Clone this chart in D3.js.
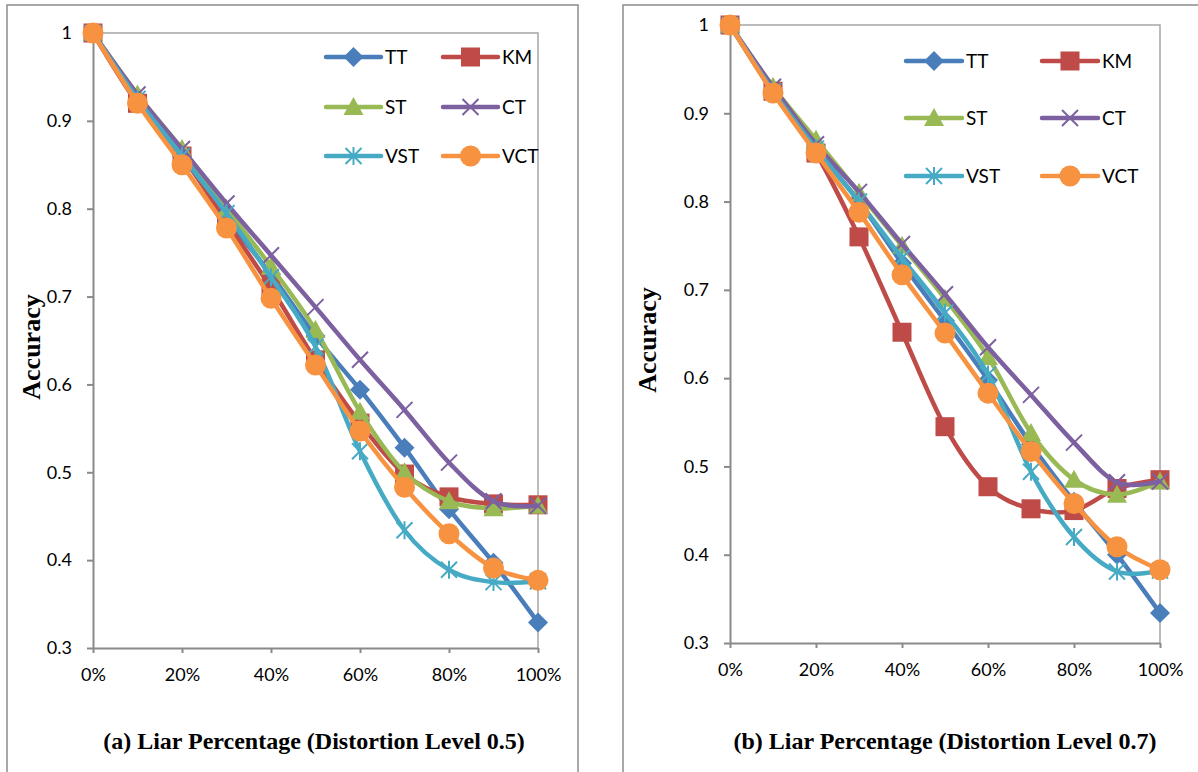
<!DOCTYPE html>
<html>
<head>
<meta charset="utf-8">
<script src="https://cdn.jsdelivr.net/npm/d3@7"></script>
<style>
  html, body { margin: 0; padding: 0; background: #fff; }
  svg { display: block; }
</style>
</head>
<body>
<svg id="chart" width="1198" height="772"></svg>
<script>
// Liar percentage on the x axis (%)
const liarPct = [0, 10, 20, 30, 40, 50, 60, 70, 80, 90, 100];
const seriesNames = ["TT", "KM", "ST", "CT", "VST", "VCT"];

// Accuracy, distortion level 0.5
const ttA  = [1, 0.925, 0.860, 0.790, 0.725, 0.655, 0.594, 0.528, 0.458, 0.397, 0.329];
const kmA  = [1, 0.920, 0.860, 0.785, 0.710, 0.628, 0.556, 0.498, 0.472, 0.464, 0.463];
const stA  = [1, 0.930, 0.868, 0.800, 0.734, 0.662, 0.569, 0.500, 0.467, 0.459, 0.462];
const ctA  = [1, 0.930, 0.868, 0.806, 0.747, 0.688, 0.628, 0.571, 0.511, 0.467, 0.462];
const vstA = [1, 0.925, 0.860, 0.795, 0.722, 0.643, 0.524, 0.434, 0.389, 0.375, 0.376];
const vctA = [1, 0.920, 0.850, 0.778, 0.698, 0.622, 0.547, 0.483, 0.430, 0.391, 0.377];

// Accuracy, distortion level 0.7
const ttB  = [1, 0.925, 0.860, 0.800, 0.730, 0.665, 0.598, 0.525, 0.460, 0.400, 0.334];
const kmB  = [1, 0.925, 0.855, 0.760, 0.652, 0.545, 0.477, 0.452, 0.450, 0.475, 0.485];
const stB  = [1, 0.930, 0.870, 0.810, 0.750, 0.690, 0.624, 0.538, 0.485, 0.468, 0.483];
const ctB  = [1, 0.930, 0.865, 0.811, 0.752, 0.695, 0.635, 0.581, 0.527, 0.482, 0.483];
const vstB = [1, 0.925, 0.860, 0.800, 0.736, 0.674, 0.604, 0.494, 0.420, 0.381, 0.382];
const vctB = [1, 0.923, 0.855, 0.788, 0.717, 0.651, 0.583, 0.517, 0.458, 0.409, 0.383];

const xTickValues = [0, 20, 40, 60, 80, 100];
const xTickLabels = ["0%", "20%", "40%", "60%", "80%", "100%"];
const yTickValues = [0.3, 0.4, 0.5, 0.6, 0.7, 0.8, 0.9, 1];
const yTickLabels = ["0.3", "0.4", "0.5", "0.6", "0.7", "0.8", "0.9", "1"];
const panelTitles = [
  "(a) Liar Percentage (Distortion Level 0.5)",
  "(b) Liar Percentage (Distortion Level 0.7)"
];
const yAxisTitle = "Accuracy";

// Office-style series colours
const seriesColor = {
  TT: "#4A7EBB", KM: "#BE4B48", ST: "#98B954",
  CT: "#7D60A0", VST: "#46AAC5", VCT: "#F69240"
};

const panels = [
  {
    frame: { x0: 7, y0: 5, x1: 578, y1: 790 },
    plot: { left: 93, right: 538, top: 33, bottom: 648 },
    yTitle: { x: 31, y: 347 },
    title: { x: 314, y: 749 },
    legend: { cols: [[326, 381], [443, 498]], rows: [57, 107, 156] },
    series: [ttA, kmA, stA, ctA, vstA, vctA]
  },
  {
    frame: { x0: 623, y0: 5, x1: 1215, y1: 790 },
    plot: { left: 730, right: 1160, top: 25, bottom: 643 },
    yTitle: { x: 647, y: 340 },
    title: { x: 945, y: 749 },
    legend: { cols: [[906, 962], [1042, 1098]], rows: [61, 118, 176] },
    series: [ttB, kmB, stB, ctB, vstB, vctB]
  }
];

const svg = d3.select("#chart");
const tickFont = "Lato, 'Open Sans', sans-serif";
const serifFont = "'Liberation Serif', 'DejaVu Serif', serif";
const axisGrey = "#8a8a8a";

function drawMarker(g, name) {
  const c = seriesColor[name];
  switch (name) {
    case "TT":
      g.append("path").attr("d", "M0,-10L10,0L0,10L-10,0Z").attr("fill", c);
      break;
    case "KM":
      g.append("rect").attr("x", -9.5).attr("y", -9.5).attr("width", 19).attr("height", 19).attr("fill", c);
      break;
    case "ST":
      g.append("path").attr("d", "M0,-10L10,8L-10,8Z").attr("fill", c);
      break;
    case "CT":
      g.append("path").attr("d", "M-8,-8L8,8M-8,8L8,-8")
        .attr("stroke", c).attr("stroke-width", 2).attr("fill", "none");
      break;
    case "VST":
      g.append("path").attr("d", "M-8,-8L8,8M-8,8L8,-8M0,-9L0,9")
        .attr("stroke", c).attr("stroke-width", 2).attr("fill", "none");
      break;
    case "VCT":
      g.append("circle").attr("r", 10.5).attr("fill", c);
      break;
  }
}

panels.forEach((p, pi) => {
  const root = svg.append("g");

  // outer panel frame
  root.append("rect")
    .attr("x", p.frame.x0).attr("y", p.frame.y0)
    .attr("width", p.frame.x1 - p.frame.x0).attr("height", p.frame.y1 - p.frame.y0)
    .attr("fill", "none").attr("stroke", "#8c8c8c").attr("stroke-width", 1.5);

  const x = d3.scaleLinear().domain([0, 100]).range([p.plot.left, p.plot.right]);
  const y = d3.scaleLinear().domain([0.3, 1]).range([p.plot.bottom, p.plot.top]);

  // plot area border (top and right)
  root.append("path")
    .attr("d", `M${x(0)},${y(1)}H${x(100)}V${y(0.3)}`)
    .attr("fill", "none").attr("stroke", "#a6a6a6").attr("stroke-width", 1.5);

  const yAxis = d3.axisLeft(y)
    .tickValues(yTickValues)
    .tickFormat((d, i) => yTickLabels[i])
    .tickSize(6).tickSizeOuter(0).tickPadding(15);
  const xAxis = d3.axisBottom(x)
    .tickValues(xTickValues)
    .tickFormat((d, i) => xTickLabels[i])
    .tickSize(5).tickSizeOuter(0).tickPadding(15);

  const gy = root.append("g").attr("transform", `translate(${x(0)},0)`).call(yAxis);
  const gx = root.append("g").attr("transform", `translate(0,${y(0.3)})`).call(xAxis);
  [gx, gy].forEach(g => {
    g.select(".domain").attr("stroke", axisGrey).attr("stroke-width", 2);
    g.selectAll(".tick line").attr("stroke", axisGrey).attr("stroke-width", 2);
    g.selectAll(".tick text")
      .attr("fill", "#000").style("font-family", tickFont).style("font-size", "18px");
  });

  // series: line first, then markers
  const line = d3.line()
    .x((d, i) => x(liarPct[i]))
    .y(d => y(d))
    .curve(d3.curveCatmullRom.alpha(0));

  seriesNames.forEach((name, si) => {
    const vals = p.series[si];
    const sg = root.append("g");
    sg.append("path")
      .attr("d", line(vals))
      .attr("fill", "none")
      .attr("stroke", seriesColor[name])
      .attr("stroke-width", 4.5)
      .attr("stroke-linejoin", "round")
      .attr("stroke-linecap", "round");
    vals.forEach((v, i) => {
      const mg = sg.append("g").attr("transform", `translate(${x(liarPct[i])},${y(v)})`);
      drawMarker(mg, name);
    });
  });

  // legend: two columns, three rows
  seriesNames.forEach((name, si) => {
    const col = p.legend.cols[si % 2];
    const ry = p.legend.rows[Math.floor(si / 2)];
    const lg = root.append("g");
    lg.append("line")
      .attr("x1", col[0]).attr("x2", col[1]).attr("y1", ry).attr("y2", ry)
      .attr("stroke", seriesColor[name]).attr("stroke-width", 4.5).attr("stroke-linecap", "round");
    drawMarker(lg.append("g").attr("transform", `translate(${(col[0] + col[1]) / 2},${ry})`), name);
    lg.append("text")
      .attr("x", col[1] + 4).attr("y", ry)
      .attr("dy", "0.35em")
      .style("font-family", tickFont).style("font-size", "19px")
      .text(name);
  });

  // y axis title
  root.append("text")
    .attr("transform", `translate(${p.yTitle.x},${p.yTitle.y}) rotate(-90)`)
    .attr("text-anchor", "middle").attr("dy", "0.35em")
    .style("font-family", serifFont).style("font-weight", "bold").style("font-size", "26px")
    .text(yAxisTitle);

  // panel caption
  root.append("text")
    .attr("x", p.title.x).attr("y", p.title.y)
    .attr("text-anchor", "middle")
    .style("font-family", serifFont).style("font-weight", "bold").style("font-size", "24px")
    .text(panelTitles[pi]);
});
</script>
</body>
</html>
